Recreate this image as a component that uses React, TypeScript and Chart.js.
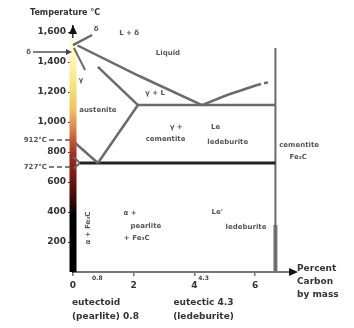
import React, { useEffect, useRef } from "react";
import { Chart, registerables } from "chart.js";

Chart.register(...registerables);

// ---- data (percent carbon, temperature °C) ----
const yTicks = [200, 400, 600, 800, 1000, 1200, 1400, 1600];
const xTicks = [0, 2, 4, 6];
const xMinorLabels: [string, number][] = [["0.8", 0.8], ["4.3", 4.3]];

const liquidusLeft = [{ x: 0.15, y: 1510 }, { x: 2.2, y: 1305 }, { x: 4.25, y: 1113 }];
const liquidusRight = [{ x: 4.25, y: 1113 }, { x: 5.08, y: 1180 }, { x: 6.07, y: 1247 }];
const liquidusRightDashed = [{ x: 6.07, y: 1247 }, { x: 6.5, y: 1268 }];
const solidus = [{ x: 0.82, y: 1367 }, { x: 2.14, y: 1113 }];
const eutecticLine = [{ x: 2.14, y: 1113 }, { x: 6.67, y: 1113 }];
const acmLine = [{ x: 2.14, y: 1113 }, { x: 0.82, y: 727 }];
const a3Line = [{ x: 0.07, y: 860 }, { x: 0.82, y: 727 }];
const eutectoidLine = [{ x: 0.23, y: 727 }, { x: 6.67, y: 727 }];
const alphaLine = [{ x: 0, y: 770 }, { x: 0.23, y: 727 }, { x: 0.03, y: 690 }];
const cementiteLine = [{ x: 6.67, y: 1493 }, { x: 6.67, y: 0 }];
const cementiteThick = [{ x: 6.67, y: 313 }, { x: 6.67, y: 0 }];
const deltaLine1 = [{ x: 0, y: 1513 }, { x: 0.63, y: 1580 }];
const deltaLine2 = [{ x: 0.03, y: 1493 }, { x: 0.4, y: 1347 }];

const gradientTemps = [0, 380, 480, 647, 780, 880, 980, 1080, 1213, 1413, 1560];
const gradientColors = ["#000000", "#000000", "#3a0a05", "#7a1a10", "#a82a18", "#c85a30", "#e09050", "#f0c060", "#f5e070", "#fff5b0", "#fffdf0"];

const regionLabels: [string, number, number][] = [
  ["δ", 0.76, 1620],
  ["L + δ", 1.85, 1593],
  ["Liquid", 3.13, 1460],
  ["γ + L", 2.7, 1193],
  ["γ", 0.26, 1280],
  ["austenite", 0.82, 1080],
  ["γ +", 3.4, 963],
  ["cementite", 3.05, 887],
  ["Le", 4.7, 963],
  ["ledeburite", 5.1, 867],
  ["α +", 1.88, 393],
  ["pearlite", 2.4, 307],
  ["+ Fe₃C", 2.1, 227],
  ["Le'", 4.75, 400],
  ["ledeburite", 5.7, 300],
  ["cementite", 7.45, 847],
  ["Fe₃C", 7.42, 767],
];
const verticalLabel: [string, number, number] = ["α + Fe₃C", 0.5, 293];
const sideMarks: [string, number][] = [["912°C", 880], ["727°C", 700]];
const arrowMark: [string, number] = ["δ", 1467];
const bottomLeft = ["eutectoid", "(pearlite) 0.8"];
const bottomMid = ["eutectic 4.3", "(ledeburite)"];
const axisTitleX = ["Percent", "Carbon", "by mass"];
const axisTitleY = "Temperature °C";

const FONT = '"DejaVu Sans", sans-serif';

const line = (data: any[], color = "#6a6a6a", width = 2.5, dash: number[] = []) => ({
  data,
  borderColor: color,
  borderWidth: width,
  borderDash: dash,
  pointRadius: 0,
  tension: 0,
  clip: false as any,
  fill: false,
});

const decor = {
  id: "decor",
  beforeDatasetsDraw(chart: any) {
    const { ctx, scales } = chart;
    const xs = scales.x, ys = scales.y;
    const x0 = xs.getPixelForValue(0);
    const yb = ys.getPixelForValue(0);
    const yt = ys.getPixelForValue(gradientTemps[gradientTemps.length - 1]);
    const g = ctx.createLinearGradient(0, yb, 0, yt);
    const tMax = gradientTemps[gradientTemps.length - 1];
    gradientTemps.forEach((t, i) => g.addColorStop(t / tMax, gradientColors[i]));
    ctx.save();
    ctx.fillStyle = g;
    ctx.fillRect(x0 - 3.5, yt, 7, yb - yt);
    ctx.restore();
  },
  afterDatasetsDraw(chart: any) {
    const { ctx, scales } = chart;
    const xs = scales.x, ys = scales.y;
    const px = (v: number) => xs.getPixelForValue(v);
    const py = (v: number) => ys.getPixelForValue(v);
    const left = px(0);
    const bottom = py(0);
    ctx.save();
    // top arrow on y axis
    ctx.fillStyle = "#111";
    ctx.beginPath();
    ctx.moveTo(left, chart.chartArea.top - 1);
    ctx.lineTo(left - 4, chart.chartArea.top + 8);
    ctx.lineTo(left + 4, chart.chartArea.top + 8);
    ctx.closePath();
    ctx.fill();
    // right arrow on x axis
    const right = chart.chartArea.right;
    ctx.beginPath();
    ctx.moveTo(right + 8, bottom);
    ctx.lineTo(right - 1, bottom - 4);
    ctx.lineTo(right - 1, bottom + 4);
    ctx.closePath();
    ctx.fill();

    // region labels
    ctx.fillStyle = "#555";
    ctx.font = `bold 7px ${FONT}`;
    ctx.textAlign = "center";
    ctx.textBaseline = "middle";
    regionLabels.forEach(([t, x, y]) => ctx.fillText(t, px(x), py(y)));
    ctx.save();
    ctx.translate(px(verticalLabel[1]), py(verticalLabel[2]));
    ctx.rotate(-Math.PI / 2);
    ctx.fillText(verticalLabel[0], 0, 0);
    ctx.restore();

    // side marks with leader lines
    ctx.strokeStyle = "#555";
    ctx.lineWidth = 1.5;
    ctx.textAlign = "right";
    sideMarks.forEach(([t, y]) => {
      const yy = py(y);
      ctx.fillText(t, left - 26, yy);
      ctx.setLineDash([5, 3]);
      ctx.beginPath();
      ctx.moveTo(left - 24, yy);
      ctx.lineTo(left - 3, yy);
      ctx.stroke();
      ctx.setLineDash([]);
    });
    // arrow pointing to axis
    const ay = py(arrowMark[1]);
    ctx.fillText(arrowMark[0], left - 42, ay);
    ctx.beginPath();
    ctx.moveTo(left - 40, ay);
    ctx.lineTo(left - 6, ay);
    ctx.stroke();
    ctx.fillStyle = "#444";
    ctx.beginPath();
    ctx.moveTo(left - 1, ay);
    ctx.lineTo(left - 7, ay - 3);
    ctx.lineTo(left - 7, ay + 3);
    ctx.closePath();
    ctx.fill();

    // minor x labels
    ctx.fillStyle = "#444";
    ctx.font = `bold 6px ${FONT}`;
    ctx.textAlign = "center";
    xMinorLabels.forEach(([t, x]) => ctx.fillText(t, px(x), bottom + 6));

    // titles
    ctx.fillStyle = "#333";
    ctx.font = `bold 8px ${FONT}`;
    ctx.textAlign = "left";
    ctx.fillText(axisTitleY, left - 43, chart.chartArea.top - 13);
    ctx.font = `bold 9px ${FONT}`;
    axisTitleX.forEach((t, i) => ctx.fillText(t, right + 7, bottom - 3 + i * 13));
    bottomLeft.forEach((t, i) => ctx.fillText(t, left - 1, bottom + 31 + i * 14));
    ctx.textAlign = "center";
    bottomMid.forEach((t, i) => ctx.fillText(t, px(4.3), bottom + 31 + i * 14));
    ctx.restore();
  },
};

export default function App() {
  const ref = useRef<HTMLCanvasElement | null>(null);
  useEffect(() => {
    if (!ref.current) return;
    const chart = new Chart(ref.current, {
      type: "line",
      data: {
        datasets: [
          line(liquidusLeft),
          line(liquidusRight),
          line(liquidusRightDashed, "#6a6a6a", 2.5, [4, 3]),
          line(solidus),
          line(eutecticLine),
          line(acmLine),
          line(a3Line),
          line(eutectoidLine, "#222", 3),
          line(alphaLine, "#6a6a6a", 2),
          line(cementiteLine, "#6a6a6a", 2),
          line(cementiteThick, "#7a7a7a", 4),
          line(deltaLine1),
          line(deltaLine2, "#6a6a6a", 2),
        ] as any,
      },
      options: {
        animation: false,
        responsive: false,
        devicePixelRatio: 1,
        layout: { padding: { top: 26, right: 64, left: 0, bottom: 0 } },
        plugins: { legend: { display: false }, tooltip: { enabled: false } },
        scales: {
          x: {
            type: "linear",
            min: 0,
            max: 7.15,
            offset: false,
            afterFit: (s: any) => { s.height = 56; },
            afterBuildTicks: (s: any) => { s.ticks = xTicks.map((v) => ({ value: v })); },
            grid: { drawOnChartArea: false, drawTicks: true, tickLength: 4, color: "#777", lineWidth: 1.5 },
            border: { display: true, color: "#777", width: 2 },
            ticks: { color: "#333", font: { family: FONT, size: 9, weight: "bold" }, padding: 4, maxRotation: 0, autoSkip: false },
          },
          y: {
            type: "linear",
            min: 0,
            max: 1640,
            afterFit: (s: any) => { s.width = 73; },
            afterBuildTicks: (s: any) => { s.ticks = yTicks.map((v) => ({ value: v })); },
            grid: { drawOnChartArea: false, drawTicks: true, tickLength: 5, color: "#333", lineWidth: 1 },
            border: { display: true, color: "#333", width: 1.5 },
            ticks: {
              color: "#333",
              font: { family: FONT, size: 9, weight: "bold" },
              padding: 2,
              autoSkip: false,
              callback: (v: any) => Number(v).toLocaleString("en-US"),
            },
          },
        },
      } as any,
      plugins: [decor],
    });
    return () => chart.destroy();
  }, []);
  return (
    <div style={{ position: "fixed", left: 0, top: 0, width: 354, height: 328, background: "#fff" }}>
      <canvas ref={ref} width={354} height={328} style={{ display: "block" }} />
    </div>
  );
}
